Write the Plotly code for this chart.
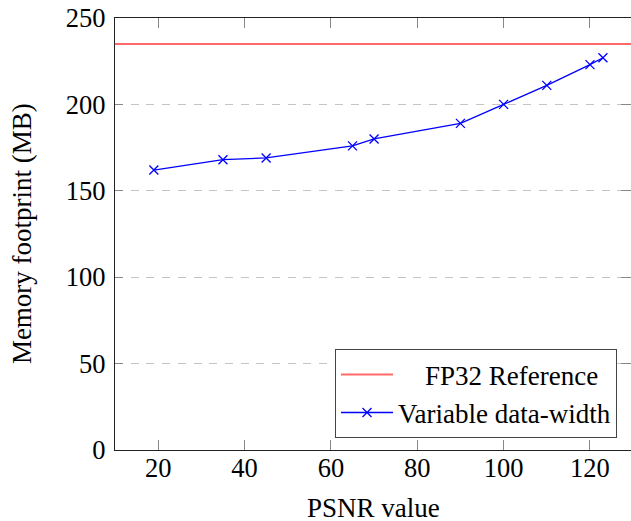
import plotly.graph_objects as go

psnr = [19, 35, 45, 65, 70, 90, 100, 110, 120, 123]
memory_mb = [162, 168, 169, 176, 180, 189, 200, 211, 223, 227]
fp32_reference = 235
x_range = [10, 129.5]
y_range = [0, 250]
x_ticks = [20, 40, 60, 80, 100, 120]
y_ticks = [0, 50, 100, 150, 200, 250]

FONT = "Liberation Serif"
FS = 26.5
FS_T = 27
NB = "\u00a0"

fig = go.Figure()
fig.add_trace(go.Scatter(
    x=x_range, y=[fp32_reference, fp32_reference], mode="lines",
    line=dict(color="rgb(255,105,105)", width=2),
    name=NB * 4 + "FP32 Reference",
))
fig.add_trace(go.Scatter(
    x=psnr, y=memory_mb, mode="lines+markers",
    line=dict(color="blue", width=1.3),
    marker=dict(symbol="x-thin", size=9, line=dict(color="blue", width=1.3)),
    name="Variable data-width",
))

fig.update_layout(
    width=631, height=521,
    margin=dict(l=115, r=0, t=18, b=71),
    paper_bgcolor="white", plot_bgcolor="white",
    font=dict(family=FONT, size=FS, color="black"),
    showlegend=True,
    legend=dict(
        x=0.9729, y=0.027, xanchor="right", yanchor="bottom",
        bgcolor="white", bordercolor="#444", borderwidth=1,
        font=dict(family=FONT, size=FS_T, color="black"),
        itemwidth=52, tracegroupgap=0,
    ),
    xaxis=dict(
        range=x_range, tickvals=x_ticks, ticks="inside", ticklen=10,
        tickcolor="#888", tickwidth=1,
        showline=True, linecolor="#222", linewidth=1.2, mirror="ticks",
        showgrid=False, zeroline=False, ticklabelstandoff=-6,
        tickfont=dict(family=FONT, size=FS),
    ),
    yaxis=dict(
        range=y_range, tickvals=y_ticks, ticks="inside", ticklen=8,
        tickcolor="#888", tickwidth=1,
        showline=True, linecolor="#222", linewidth=1.2, mirror=False,
        showgrid=True, gridcolor="#c4c4c4", gridwidth=1, griddash="8px,7.7px",
        zeroline=False, ticklabelstandoff=3,
        tickfont=dict(family=FONT, size=FS),
    ),
    yaxis2=dict(
        range=y_range, tickvals=y_ticks, ticks="inside", ticklen=10,
        tickcolor="#888", overlaying="y", side="right", showline=False,
        showgrid=False, zeroline=False, showticklabels=False,
    ),
    annotations=[
        dict(text="PSNR value", x=0.5, y=(449.5 - 507) / 431.5, xref="paper",
             yref="paper", showarrow=False, font=dict(family=FONT, size=FS_T),
             yanchor="middle"),
        dict(text="Memory footprint (MB)", x=-0.18, y=0.5, xref="paper",
             yref="paper", showarrow=False, textangle=-90,
             font=dict(family=FONT, size=FS_T), xanchor="center", yanchor="middle"),
    ],
)
fig.add_trace(go.Scatter(x=[], y=[], yaxis="y2", showlegend=False))

fig.write_html("out.html", config={"displayModeBar": False},
               post_script="document.body.style.margin='0';")
